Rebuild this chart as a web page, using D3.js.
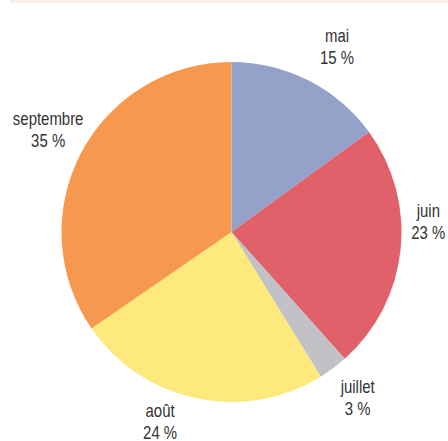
<!DOCTYPE html>
<head>
<meta http-equiv="Content-type" content="text/html;charset=UTF-8">
</head>
<style>
body { margin: 0; background: #fff; }
svg { display: block; }
</style>
<svg width="448" height="441"></svg>
<script src="https://d3js.org/d3.v7.min.js"></script>
<script>

// months and their share
var months = ["mai", "juin", "juillet", "août", "septembre"];
var shares = [15.0, 23.4, 2.8, 24.2, 34.6];
var colors = ["#94a1c9", "#e0616a", "#c1c1c6", "#fee97c", "#f6994f"];

var svg = d3.select("svg"),
    cx = 231.5, cy = 232, radius = 170;

// remains of the header band cut off at the top
svg.append("rect")
    .attr("x", 10).attr("y", 0)
    .attr("width", 438).attr("height", 3)
    .attr("fill", "#fdeee4");

var data = months.map(function(m, i) { return {month: m, value: shares[i]}; });

var pie = d3.pie()
    .sort(null)
    .value(function(d) { return d.value; });

var arc = d3.arc().innerRadius(0).outerRadius(radius);
var labelArc = d3.arc().innerRadius(206).outerRadius(206);

// small shifts so the labels sit where the original put them
var nudge = {
  "mai": [12, -2],
  "juin": [-8, -33],
  "juillet": [3, 0],
  "août": [-29, -13],
  "septembre": [-1, -7]
};

var g = svg.append("g")
    .attr("transform", "translate(" + cx + "," + cy + ")");

var arcs = pie(data);

g.selectAll("path")
  .data(arcs)
  .enter().append("path")
    .attr("d", arc)
    .attr("fill", function(d, i) { return colors[i]; });

// narrow lettering: Liberation Sans squeezed horizontally
var label = g.selectAll("text")
  .data(arcs)
  .enter().append("text")
    .attr("font-family", "'Liberation Sans', Arial, sans-serif")
    .attr("font-size", 18)
    .attr("fill", "#333")
    .attr("text-anchor", "middle")
    .attr("transform", function(d) {
      var c = labelArc.centroid(d), n = nudge[d.data.month];
      return "translate(" + (c[0] + n[0]) + "," + (c[1] + n[1]) + ") scale(0.83,1)";
    });

label.append("tspan")
    .attr("x", 0).attr("y", -4)
    .text(function(d) { return d.data.month; });

label.append("tspan")
    .attr("x", 0).attr("y", 18)
    .text(function(d) { return Math.round(d.data.value) + " %"; });

</script>
